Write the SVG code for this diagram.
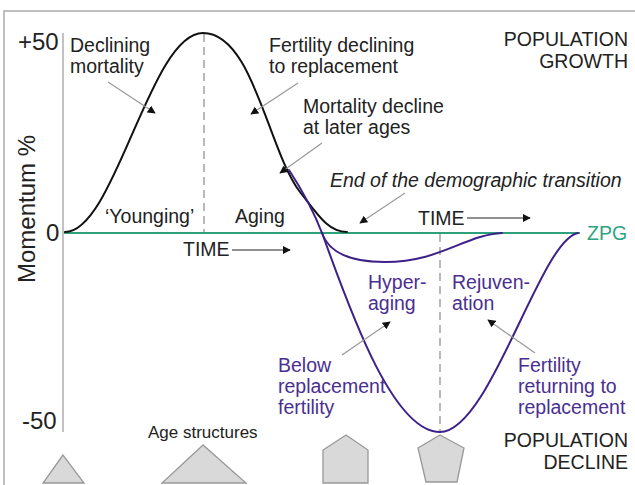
<svg xmlns="http://www.w3.org/2000/svg" width="635" height="485" viewBox="0 0 635 485">
<style>
text{font-family:"Liberation Sans",Arial,sans-serif;fill:#222;}
.ax{font-size:24px;}
.lb{font-size:19.5px;}
.pu{fill:#4a2f91;}
.gr{fill:#2ea383;}
.lead{stroke:#999;stroke-width:1.2;fill:none;}
.tarr{stroke:#222;stroke-width:1;fill:none;}
.shape{fill:#d9d9d9;stroke:#999;stroke-width:1.3;}
.dash{stroke:#8a8a8a;stroke-width:1.2;stroke-dasharray:8 5;fill:none;}
</style>
<defs>
<marker id="ah" viewBox="0 0 10 10" refX="9" refY="5" markerWidth="8" markerHeight="8" markerUnits="userSpaceOnUse" orient="auto">
<path d="M0,0 L10,5 L0,10 z" fill="#111"/>
</marker>
</defs>
<rect width="635" height="485" fill="#fff"/>
<g id="frame" stroke="#aaa" stroke-width="1.5" fill="none">
<path d="M4,485 V11 H635"/>
</g>
<g id="axes">
<line x1="63" y1="33" x2="63" y2="432" stroke="#999" stroke-width="1.2"/>
<text class="ax" x="18" y="50">+50</text>
<text class="ax" x="46" y="241">0</text>
<text class="ax" x="22" y="429">-50</text>
<text class="ax" transform="translate(35,209) rotate(-90)" text-anchor="middle">Momentum %</text>
</g>
<g id="guides">
<line class="dash" x1="204" y1="34" x2="204" y2="232"/>
<line class="dash" x1="440" y1="234" x2="440" y2="432"/>
</g>
<g id="zpg-line">
<line x1="64" y1="233" x2="580" y2="233" stroke="#2ea07c" stroke-width="2"/>
<text class="lb gr" x="587" y="240">ZPG</text>
</g>
<g id="curves" fill="none" stroke-linecap="round">
<path id="growth-curve" d="M65,232 C115,232 150,33 203,33 C253,33 268,150 300,192 C318,215 328,232 347,232" stroke="#111" stroke-width="2"/>
<path id="decline-deep" d="M289,170 C302,190 314,212 322,233 C345,295 390,432 440,432 C490,432 540,240 578,233" stroke="#3d2189" stroke-width="2"/>
<path id="decline-shallow" d="M322,233 C328,250 345,262 385,262 C440,262 465,235 502,233" stroke="#3d2189" stroke-width="2"/>
</g>
<g id="connectors">
<line class="lead" x1="108" y1="82" x2="155" y2="113" marker-end="url(#ah)"/>
<line class="lead" x1="298" y1="83" x2="251" y2="114" marker-end="url(#ah)"/>
<line class="lead" x1="322" y1="143" x2="280" y2="173" marker-end="url(#ah)"/>
<line class="lead" x1="405" y1="193" x2="360" y2="223" marker-end="url(#ah)"/>
<line class="lead" x1="342" y1="355" x2="390" y2="322" marker-end="url(#ah)"/>
<line class="lead" x1="535" y1="353" x2="488" y2="320" marker-end="url(#ah)"/>
<line class="tarr" x1="232" y1="250" x2="290" y2="250" marker-end="url(#ah)"/>
<line class="tarr" x1="467" y1="218" x2="530" y2="218" marker-end="url(#ah)"/>
</g>
<g id="label-declining-mortality">
<text class="lb" x="70" y="52">Declining</text>
<text class="lb" x="70" y="73">mortality</text>
</g>
<g id="label-fertility-declining">
<text class="lb" x="269" y="52">Fertility declining</text>
<text class="lb" x="269" y="73">to replacement</text>
</g>
<g id="label-mortality-later">
<text class="lb" x="303" y="113">Mortality decline</text>
<text class="lb" x="303" y="134">at later ages</text>
</g>
<g id="label-population-growth">
<text class="lb" x="628" y="46" text-anchor="end">POPULATION</text>
<text class="lb" x="628" y="68" text-anchor="end">GROWTH</text>
</g>
<g id="label-end-transition">
<text class="lb" x="330" y="187" font-style="italic">End of the demographic transition</text>
</g>
<g id="label-time-1">
<text class="lb" x="183" y="256">TIME</text>
</g>
<g id="label-time-2">
<text class="lb" x="418" y="225">TIME</text>
</g>
<g id="label-younging">
<text class="lb" x="105" y="223">‘Younging’</text>
</g>
<g id="label-aging">
<text class="lb" x="235" y="223">Aging</text>
</g>
<g id="label-hyperaging">
<text class="lb pu" x="368" y="289">Hyper-</text>
<text class="lb pu" x="368" y="310">aging</text>
</g>
<g id="label-rejuvenation">
<text class="lb pu" x="452" y="289">Rejuven-</text>
<text class="lb pu" x="452" y="310">ation</text>
</g>
<g id="label-below-replacement">
<text class="lb pu" x="278" y="372">Below</text>
<text class="lb pu" x="278" y="393">replacement</text>
<text class="lb pu" x="278" y="414">fertility</text>
</g>
<g id="label-fertility-returning">
<text class="lb pu" x="518" y="372">Fertility</text>
<text class="lb pu" x="518" y="393">returning to</text>
<text class="lb pu" x="518" y="414">replacement</text>
</g>
<g id="label-population-decline">
<text class="lb" x="628" y="447" text-anchor="end">POPULATION</text>
<text class="lb" x="628" y="469" text-anchor="end">DECLINE</text>
</g>
<g id="label-age-structures">
<text x="148" y="438" font-size="17">Age structures</text>
</g>
<g id="age-shapes">
<polygon id="pyramid-small" class="shape" points="63,455 43,483 84,483"/>
<polygon id="pyramid-large" class="shape" points="203,445 162,483 246,483"/>
<polygon id="pyramid-house" class="shape" points="346,435 368,450 368,483 323,483 323,450"/>
<polygon id="pyramid-pentagon" class="shape" points="440,435 464,448 457,482 426,482 418,448"/>
</g>
</svg>
